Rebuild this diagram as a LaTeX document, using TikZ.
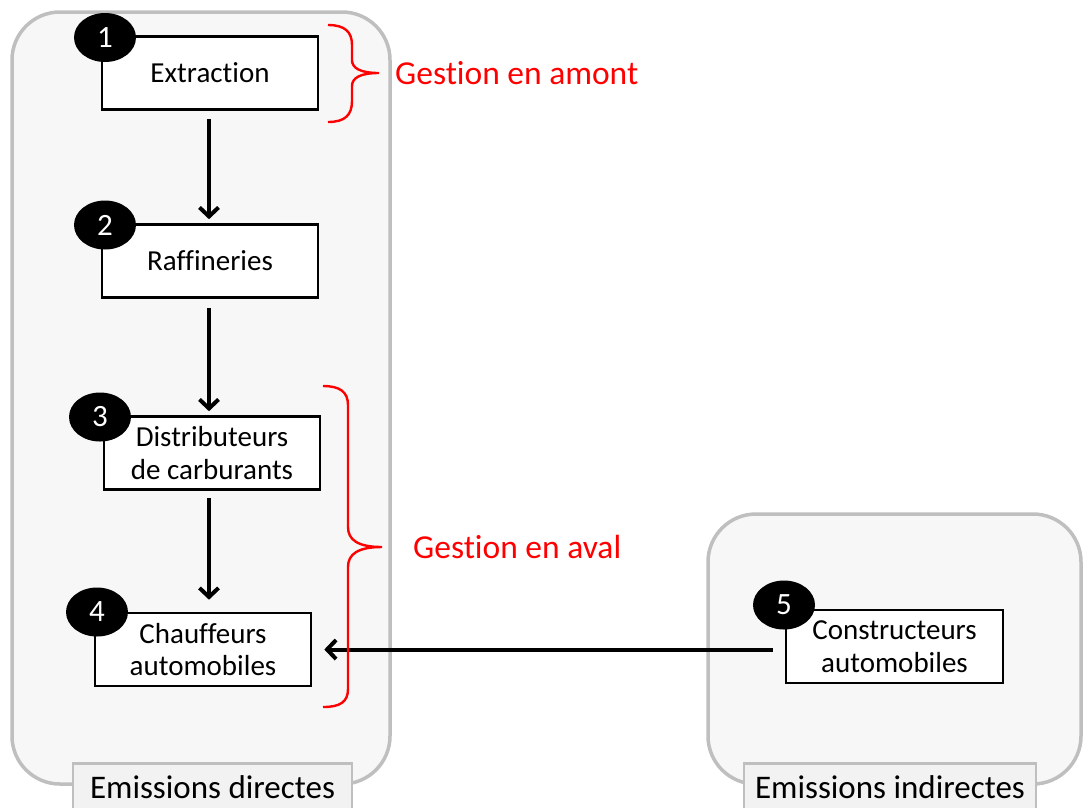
\documentclass[tikz,border=0pt]{standalone}
\usepackage{fontspec}
\setmainfont[Ligatures=NoCommon]{Carlito}
\usetikzlibrary{shapes.geometric,arrows.meta}
\definecolor{contfill}{HTML}{F7F7F7}
\definecolor{contline}{HTML}{BFBFBF}
\definecolor{labfill}{HTML}{F2F2F2}
\definecolor{bracered}{HTML}{FF0000}
\tikzset{
  container/.style={draw=contline, line width=3.5pt, fill=contfill, rounded corners=48pt},
  grouplabel/.style={draw=contline, line width=2.5pt, fill=labfill, font=\fontsize{33}{36}\selectfont, anchor=north, minimum height=48pt, inner sep=0pt, text depth=0pt},
  stepbox/.style={draw=black, line width=2.6pt, fill=white, minimum width=216pt, minimum height=73pt, align=center, font=\fontsize{29}{32.5}\selectfont, inner sep=0pt},
  numdot/.style={ellipse, fill=black, text=white, minimum width=62pt, minimum height=49pt, inner sep=0pt, font=\fontsize{31}{31}\selectfont},
  arr/.style={-{Straight Barb[length=9pt,width=19pt,line width=4pt]}, line width=4pt},
  brace/.style={draw=bracered, line width=2.4pt},
  bracelabel/.style={text=bracered, font=\fontsize{33.5}{36}\selectfont, anchor=west, inner sep=0pt},
}
\begin{document}
\begin{tikzpicture}[x=1pt,y=-1pt]
\useasboundingbox (0,0) rectangle (1083,807);
\clip (0,0) rectangle (1083,807);
% containers
\draw[container] (12,12) rectangle (390,784);
\draw[container] (708,514) rectangle (1081,784);
\node[grouplabel, minimum width=279pt] (ld) at (212.5,762) {Emissions directes};
\node[grouplabel, minimum width=292pt] (li) at (890,762) {Emissions indirectes};
% steps
\node[stepbox] (ext) at (210,73) {Extraction};
\node[stepbox] (raf) at (210,261) {Raffineries};
\node[stepbox] (dist) at (212,453) {Distributeurs\\de carburants};
\node[stepbox] (chf) at (203,649.5) {Chauffeurs\\automobiles};
\node[stepbox, minimum width=217pt] (cons) at (894.5,646.5) {Constructeurs\\automobiles};
% numbers
\node[numdot] (n1) at (105,37.5) {1};
\node[numdot] (n2) at (105,225) {2};
\node[numdot] (n3) at (100,417) {3};
\node[numdot] (n4) at (97,612) {4};
\node[numdot] (n5) at (784,605) {5};
% arrows
\draw[arr, shorten <=8pt, shorten >=4pt] (ext.south -| 209,0) -- (raf.north -| 209,0);
\draw[arr, shorten <=9pt, shorten >=4pt] (raf.south -| 209,0) -- (dist.north -| 209,0);
\draw[arr, shorten <=7pt, shorten >=12pt] (dist.south -| 209,0) -- (chf.north -| 209,0);
\draw[arr, shorten <=12pt, shorten >=12pt] (cons.west |- chf.east) -- (chf.east);
% braces
\coordinate (b1tip) at (379,73);
\coordinate (b2tip) at (382,547);
\draw[brace] (328,25) .. controls (345,25) and (352,32) .. (352,45) -- (352,60)
  .. controls (352,68) and (360,73) .. (b1tip)
  .. controls (360,73) and (352,78) .. (352,86) -- (352,101)
  .. controls (352,115) and (345,122) .. (328,122);
\draw[brace] (323,386) .. controls (340,386) and (348,392) .. (348,405) -- (348,527)
  .. controls (348,540) and (358,547) .. (b2tip)
  .. controls (358,547) and (348,554) .. (348,567) -- (348,689)
  .. controls (348,702) and (340,707) .. (323,707);
\node[bracelabel] (ga) at (395,73) {Gestion en amont};
\node[bracelabel] (gv) at (413,547) {Gestion en aval};
\end{tikzpicture}
\end{document}
